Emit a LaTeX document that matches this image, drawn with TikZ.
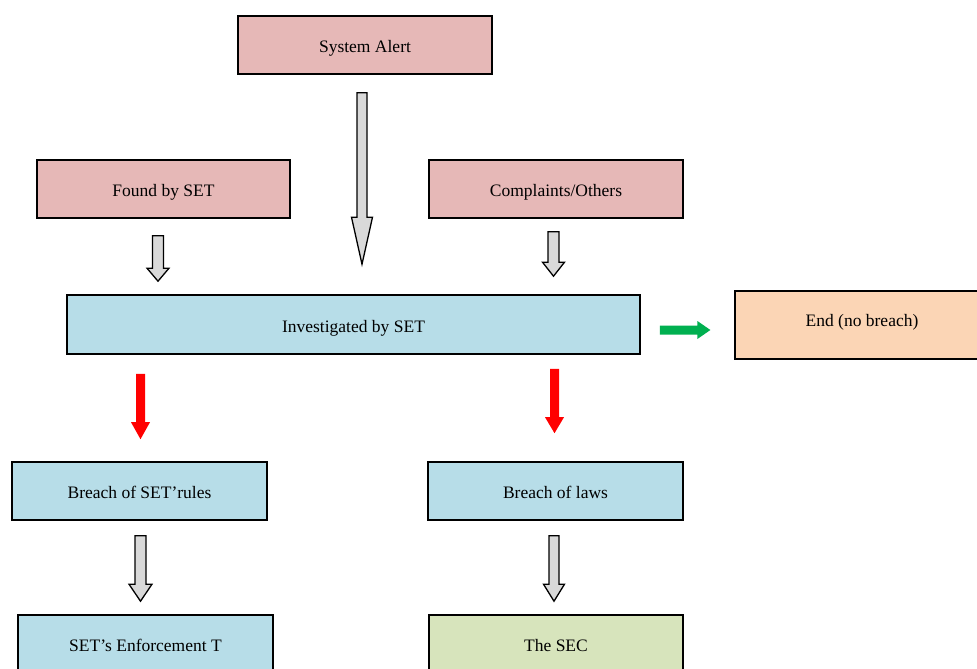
\documentclass[tikz,border=0pt]{standalone}
\usepackage{fontspec}
\setmainfont{Liberation Serif}
\usetikzlibrary{calc}

\definecolor{alertpink}{HTML}{E6B8B7}
\definecolor{setblue}{HTML}{B7DDE8}
\definecolor{endorange}{HTML}{FBD5B5}
\definecolor{secgreen}{HTML}{D7E4BC}
\definecolor{arrowgray}{HTML}{D9D9D9}
\definecolor{okgreen}{HTML}{00B050}

\tikzset{
  box/.style={draw=black, line width=1.6pt, minimum width=254pt, minimum height=58pt,
    inner sep=0pt, text height=15pt, text depth=0pt,
    font=\fontsize{17.5}{21}\selectfont},
  grayarrow/.style={draw=black, line width=1.3pt, fill=arrowgray, line join=miter},
  redarrow/.style={draw=none, fill=red},
  greenarrow/.style={draw=none, fill=okgreen}
}

% block arrow down: style, from, to, shaft half, head half, head length
\newcommand{\blockdown}[6]{%
  \filldraw[#1] let \p1=(#2), \p2=(#3) in
    (\x1-#4,\y1) -- (\x1+#4,\y1) -- (\x1+#4,\y2+#6) -- (\x1+#5,\y2+#6)
    -- (\x1,\y2) -- (\x1-#5,\y2+#6) -- (\x1-#4,\y2+#6) -- cycle;}
% block arrow right: style, from, to, shaft half, head half, head length
\newcommand{\blockright}[6]{%
  \filldraw[#1] let \p1=(#2), \p2=(#3) in
    (\x1,\y1+#4) -- (\x1,\y1-#4) -- (\x2-#6,\y1-#4) -- (\x2-#6,\y1-#5)
    -- (\x2,\y1) -- (\x2-#6,\y1+#5) -- (\x2-#6,\y1+#4) -- cycle;}

\begin{document}
\begin{tikzpicture}[x=1pt,y=-1pt]
\useasboundingbox (0,0) rectangle (977,669);
\clip (0,0) rectangle (977,669);

\node[box, fill=alertpink] (alert) at (365,45) {System Alert};
\node[box, fill=alertpink, minimum width=253pt] (found) at (163.5,189) {Found by SET};
\node[box, fill=alertpink] (compl) at (556,189) {Complaints/Others};
\node[box, fill=setblue, minimum width=573pt, minimum height=59pt] (invest) at (353.5,324.5) {Investigated by SET};
\node[box, fill=endorange, minimum height=68pt, line width=1.2pt,
  text height=11pt, text depth=9pt] (endnb) at (862,325) {End (no breach)};
\node[box, fill=setblue, minimum width=255pt] (rules) at (139.5,491) {Breach of SET'rules};
\node[box, fill=setblue, minimum width=255pt] (laws) at (555.5,491) {Breach of laws};
\node[box, fill=setblue, minimum width=255pt] (enf) at (145.5,644) {SET's Enforcement T};
\node[box, fill=secgreen] (sec) at (556,644) {The SEC};

% arrows into the investigation
\coordinate (a1) at ($(alert.south)+(-3,18)$);
\coordinate (a2) at ($(a1 |- invest.north)+(0,-30)$);
\blockdown{grayarrow}{a1}{a2}{5pt}{10.5pt}{47pt}
\coordinate (f1) at ($(found.south)+(-5.5,17)$);
\coordinate (f2) at ($(f1 |- invest.north)+(0,-13)$);
\blockdown{grayarrow}{f1}{f2}{5.5pt}{11pt}{13pt}
\coordinate (c1) at ($(compl.south)+(-2.5,13)$);
\coordinate (c2) at ($(c1 |- invest.north)+(0,-18)$);
\blockdown{grayarrow}{c1}{c2}{5.5pt}{11pt}{14pt}

% no breach
\coordinate (g1) at ($(invest.east)+(19,5.5)$);
\coordinate (g2) at ($(endnb.west |- g1)+(-24,0)$);
\blockright{greenarrow}{g1}{g2}{4.5pt}{9pt}{13pt}

% breaches
\coordinate (r1) at ($(invest.south)+(-213,19)$);
\coordinate (r2) at ($(r1 |- rules.north)+(0,-22)$);
\blockdown{redarrow}{r1}{r2}{4.5pt}{9.5pt}{17pt}
\coordinate (s1) at ($(invest.south)+(201,14)$);
\coordinate (s2) at ($(s1 |- laws.north)+(0,-28)$);
\blockdown{redarrow}{s1}{s2}{4.5pt}{9.5pt}{16pt}

% follow-up
\coordinate (e1) at ($(rules.south)+(1,15)$);
\coordinate (e2) at ($(e1 |- enf.north)+(0,-13)$);
\blockdown{grayarrow}{e1}{e2}{5.5pt}{11.5pt}{17pt}
\coordinate (l1) at ($(laws.south)+(-1.5,15)$);
\coordinate (l2) at ($(l1 |- sec.north)+(0,-13)$);
\blockdown{grayarrow}{l1}{l2}{5pt}{10.5pt}{17pt}
\end{tikzpicture}
\end{document}
